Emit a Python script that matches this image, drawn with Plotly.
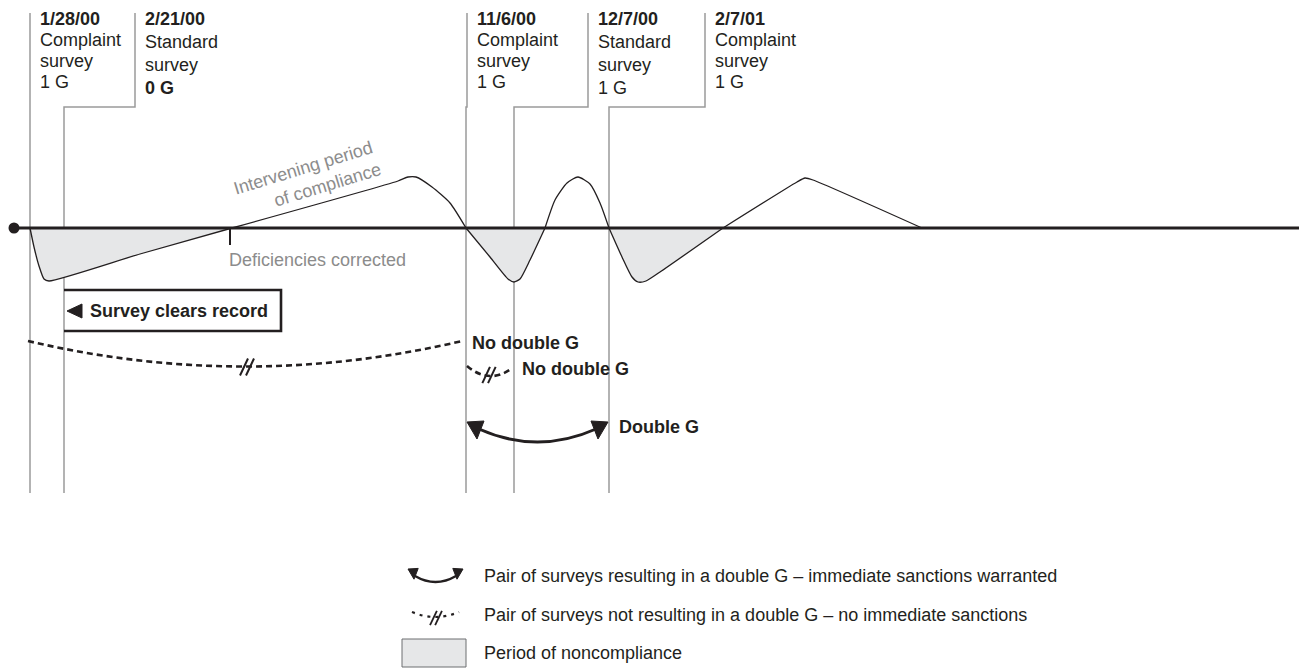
import plotly.graph_objects as go

W, H = 1307, 668
OFF = 8  # page body margin compensation
BASE_Y = 228
FONT = "Liberation Sans, Arial, Helvetica, sans-serif"
INK = "#231f20"
GREY_TXT = "#8c8c8c"
GREY_LINE = "#9a9a9a"
FILL = "#e6e7e8"

# ---- data -------------------------------------------------------------
survey_dates = ["1/28/00", "2/21/00", "11/6/00", "12/7/00", "2/7/01"]
survey_types = ["Complaint", "Standard", "Complaint", "Standard", "Complaint"]
survey_g = ["1 G", "0 G", "1 G", "1 G", "1 G"]
survey_g_bold = [False, True, False, False, False]
label_x = [30, 135, 467, 588, 705]   # where each survey's label line starts
floor_x = [30, 64, 466, 514, 609]    # where each survey sits on the timeline

# compliance curve key points (baseline = compliance threshold)
curve_x = [30, 34, 39, 44, 49, 140, 232,
           398, 408, 416, 432, 450, 466,
           490, 508, 514, 520, 530, 545,
           555, 567, 578, 590, 600, 609,
           622, 632, 638, 646, 660, 723,
           797, 805, 813, 922]
curve_y = [228, 247, 266, 279, 281, 254, 228,
           181, 177, 177, 187, 203, 228,
           257, 279, 282, 279, 260, 228,
           200, 183, 177, 184, 203, 228,
           257, 277, 282, 281, 272, 228,
           182, 178, 180, 228]

# survey pairs
pair_from = [0, 2, 2]
pair_to = [2, 3, 4]
pair_result = ["No double G", "No double G", "Double G"]

legend_items = [
    "Pair of surveys resulting in a double G \u2013 immediate sanctions warranted",
    "Pair of surveys not resulting in a double G \u2013 no immediate sanctions",
    "Period of noncompliance",
]

fig = go.Figure()

# ---- survey guide lines ------------------------------------------------
for i in range(len(survey_dates)):
    fig.add_trace(go.Scatter(
        x=[label_x[i], label_x[i], floor_x[i], floor_x[i]],
        y=[13, 107, 107, 493],
        mode="lines", line=dict(color=GREY_LINE, width=1.5),
        hoverinfo="skip", showlegend=False))

# ---- compliance curve with shaded noncompliance -----------------------
cross = [i for i, v in enumerate(curve_y) if v == BASE_Y]
for a, b in zip(cross[:-1], cross[1:]):
    sx = curve_x[a:b + 1]
    sy = curve_y[a:b + 1]
    below = max(sy) > BASE_Y
    if below:
        fig.add_trace(go.Scatter(x=[sx[0], sx[-1]], y=[BASE_Y, BASE_Y],
                                 mode="lines", line=dict(width=0, color=FILL),
                                 hoverinfo="skip", showlegend=False))
    fig.add_trace(go.Scatter(
        x=sx, y=sy, mode="lines",
        line=dict(color=INK, width=1.3, shape="spline", smoothing=0.6),
        fill="tonexty" if below else None,
        fillcolor=FILL if below else None,
        hoverinfo="skip", showlegend=False))

# start dot
fig.add_trace(go.Scatter(x=[14], y=[BASE_Y], mode="markers",
                         marker=dict(color=INK, size=11),
                         hoverinfo="skip", showlegend=False))

shapes = []
annotations = []


def txt(x, y, s, bold=False, color=INK, size=18, xanchor="left", angle=0):
    annotations.append(dict(
        x=x, y=y, xref="x", yref="y", text=f"<b>{s}</b>" if bold else s,
        showarrow=False, xanchor=xanchor, yanchor="middle", textangle=angle,
        font=dict(family=FONT, size=size, color=color)))


def line(x0, y0, x1, y1, width=2, color=INK, dash=None):
    shapes.append(dict(type="line", x0=x0, y0=y0, x1=x1, y1=y1, xref="x", yref="y",
                       line=dict(color=color, width=width, dash=dash), layer="above"))


def path(d, width=2, color=INK, fill=None, dash=None):
    s = dict(type="path", path=d, xref="x", yref="y", layer="above",
             line=dict(color=color, width=width, dash=dash))
    if fill:
        s["fillcolor"] = fill
    shapes.append(s)


def qarc(x0, y0, x1, y1, sag, **kw):
    cx = (x0 + x1) / 2
    cy = (y0 + y1) / 2 + 2 * sag
    path(f"M{x0},{y0} Q{cx},{cy} {x1},{y1}", **kw)


def slashes(cx, cy, s=1.0, width=2):
    for off in (-3 * s, 3 * s):
        line(cx + off - 4 * s, cy + 8.5 * s, cx + off + 4 * s, cy - 8.5 * s, width=width)


def arrowhead(tx, ty, sgn, s=1.0):
    p1 = (tx + sgn * 17 * s, ty - 1 * s)
    p2 = (tx + sgn * 10 * s, ty + 17 * s)
    path(f"M{tx},{ty} L{p1[0]},{p1[1]} L{p2[0]},{p2[1]} Z", width=1, color=INK, fill=INK)


# baseline
line(14, BASE_Y, W, BASE_Y, width=3.2)
# deficiencies corrected tick
line(230, BASE_Y, 230, 245, width=2)
txt(227, 260, "Deficiencies corrected", color=GREY_TXT)
txt(303, 168, "Intervening period", color=GREY_TXT, xanchor="center", angle=-17)
txt(327, 185, "of compliance", color=GREY_TXT, xanchor="center", angle=-17)

# survey labels
for i in range(len(survey_dates)):
    step = 21 if survey_types[i] == "Complaint" else 23
    rows = [(survey_dates[i], True), (survey_types[i], False),
            ("survey", False), (survey_g[i], survey_g_bold[i])]
    for r, (s, b) in enumerate(rows):
        txt(label_x[i] + 8, 19 + r * step, s, bold=b)

# survey clears record box
bx0 = floor_x[1]
path(f"M{bx0},290 L281,290 L281,331 L{bx0},331", width=2.6)
path(f"M{bx0 + 3},311 L{bx0 + 18},304 L{bx0 + 18},318 Z", width=1, fill=INK)
txt(bx0 + 24, 311, "Survey clears record", bold=True)

# pair arcs
DASH = "6px,4px"
# 1/28/00 -> 11/6/00
x0, x1 = floor_x[pair_from[0]] - 2, floor_x[pair_to[0]] - 4
qarc(x0, 341, x1, 341, 25.5, width=2.6, dash=DASH)
slashes((x0 + x1) / 2 + 2, 367)
txt(floor_x[pair_to[0]] + 4, 343, pair_result[0], bold=True)
# 11/6/00 -> 12/7/00
x0, x1 = floor_x[pair_from[1]] + 1, floor_x[pair_to[1]] - 3
qarc(x0, 366, x1, 369, 8.5, width=2.6, dash=DASH)
slashes((x0 + x1) / 2, 375, s=0.95)
txt(floor_x[pair_to[1]] + 6, 369, pair_result[1], bold=True)
# 11/6/00 -> 2/7/01
lx, rx = floor_x[pair_from[2]] + 1, floor_x[pair_to[2]] - 1
qarc(lx + 12, 429, rx - 12, 429, 13, width=3)
arrowhead(lx, 422, +1)
arrowhead(rx, 422, -1)
txt(floor_x[pair_to[2]] + 8, 427, pair_result[2], bold=True)

# ---- legend -----------------------------------------------------------
LX = 482
leg_y = [576, 615, 653]
# arrow icon
qarc(415, leg_y[0], 456, leg_y[0], 6, width=2.4)
arrowhead(408, leg_y[0] - 7, +1, s=0.6)
arrowhead(463, leg_y[0] - 7, -1, s=0.6)
# dashed icon
qarc(412, leg_y[1] - 3, 459, leg_y[1] - 3, 5, width=2.2, dash="3px,5px")
slashes(436, leg_y[1] + 3, s=0.85, width=1.8)
# box icon
shapes.append(dict(type="rect", x0=402, x1=466, y0=leg_y[2] - 14, y1=H - 1,
                   xref="x", yref="y",
                   line=dict(color="#6d6e70", width=1), fillcolor=FILL, layer="above"))
for yy, s in zip(leg_y, legend_items):
    txt(LX, yy, s)

fig.update_layout(
    width=W, height=H, margin=dict(l=0, r=0, t=0, b=0),
    paper_bgcolor="white", plot_bgcolor="white", showlegend=False,
    xaxis=dict(visible=False, range=[OFF, W + OFF], fixedrange=True),
    yaxis=dict(visible=False, range=[H + OFF, OFF], fixedrange=True),
    shapes=shapes, annotations=annotations,
)

fig.write_html("out.html")
